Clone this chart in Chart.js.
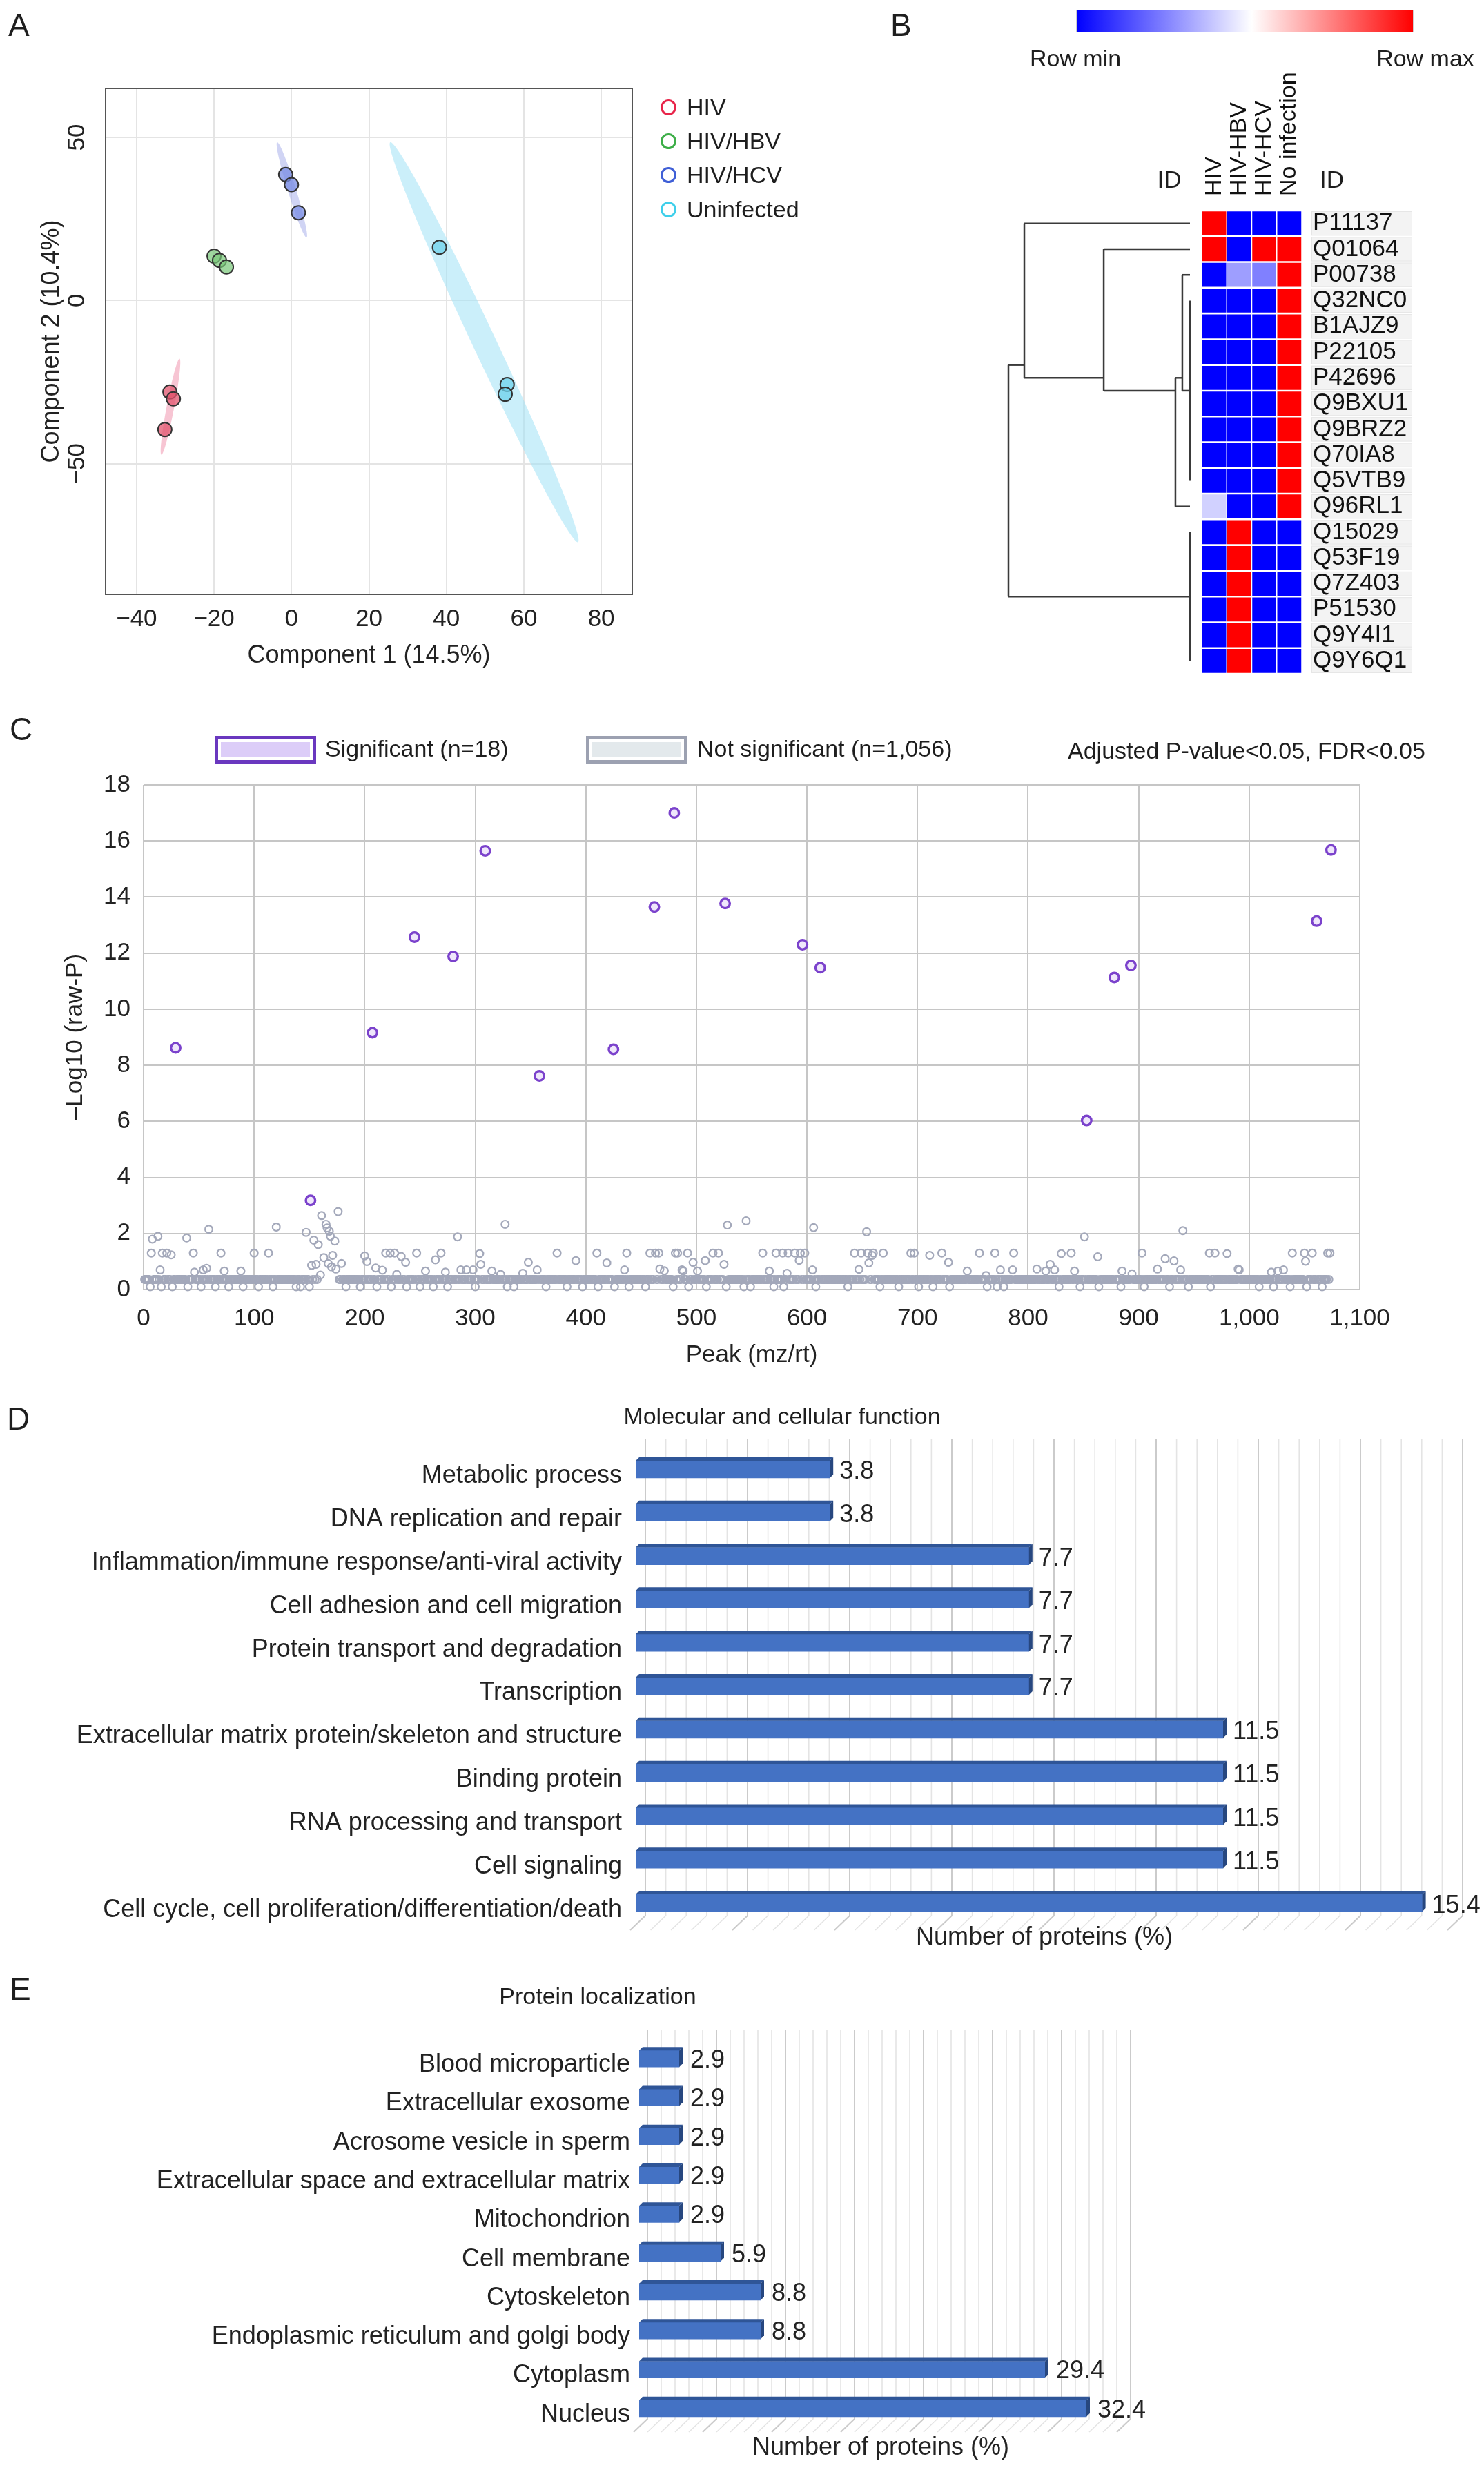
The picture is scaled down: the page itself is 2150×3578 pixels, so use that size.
<!DOCTYPE html>
<html>
<head>
<meta charset="utf-8">
<title>Proteomic analysis figure</title>
<script src="https://cdn.jsdelivr.net/npm/chart.js@4.4.1/dist/chart.umd.min.js"></script>
<style>
  html,body{margin:0;padding:0;background:#fff;}
  body{width:2150px;height:3578px;position:relative;overflow:hidden;font-family:"Liberation Sans",Arial,Helvetica,sans-serif;color:#1e1e1e;}
  canvas{position:absolute;display:block;}
  .t{position:absolute;white-space:nowrap;line-height:1;}
</style>
</head>
<body>
<canvas id="cA" width="1300" height="1000" style="left:0px;top:0px"></canvas>
<canvas id="cB" width="720" height="990" style="left:1430px;top:0px"></canvas>
<canvas id="cC" width="2150" height="980" style="left:0px;top:1020px"></canvas>
<canvas id="cD" width="2150" height="830" style="left:0px;top:2000px"></canvas>
<canvas id="cE" width="2150" height="738" style="left:0px;top:2840px"></canvas>
<script>
// ---------------- DATA ----------------
// Panel A : PCA scores (Component 1, Component 2)
const pcaGroups  = ['HIV', 'HIV/HBV', 'HIV/HCV', 'Uninfected'];
const pcaHIV     = [[-31.4, -28.0], [-30.5, -30.1], [-32.7, -39.5]];
const pcaHBV     = [[-20.0, 13.6], [-18.6, 12.3], [-16.8, 10.3]];
const pcaHCV     = [[-1.5, 38.6], [0.0, 35.5], [1.8, 26.9]];
const pcaUninf   = [[38.2, 16.3], [55.7, -25.7], [55.2, -28.7]];
// confidence ellipses: major-axis end points
const ellHIV     = [[-33.6, -47.2], [-28.9, -17.8]];
const ellHCV     = [[-3.7, 48.5], [3.9, 19.3]];
const ellUninf   = [[25.5, 48.5], [74.0, -74.0]];

// Panel B : heat map (row-scaled, 0 = row min, 1 = row max)
const hmConditions = ['HIV', 'HIV-HBV', 'HIV-HCV', 'No infection'];
const hmIds = ['P11137','Q01064','P00738','Q32NC0','B1AJZ9','P22105','P42696','Q9BXU1','Q9BRZ2',
               'Q70IA8','Q5VTB9','Q96RL1','Q15029','Q53F19','Q7Z403','P51530','Q9Y4I1','Q9Y6Q1'];
const hmValues = [
  [1,0,0,0],[1,0,1,1],[0,0.31,0.25,1],
  [0,0,0,1],[0,0,0,1],[0,0,0,1],[0,0,0,1],[0,0,0,1],[0,0,0,1],[0,0,0,1],[0,0,0,1],
  [0.41,0,0,1],
  [0,1,0,0],[0,1,0,0],[0,1,0,0],[0,1,0,0],[0,1,0,0],[0,1,0,0]
];
// dendrogram merges: [node, children (row index or node), height]
const dendroMerges = [
  ['E', [3,4,5,6,7,8,9,10], 0],
  ['D', [2,'E'], 0.042],
  ['C', ['D',11], 0.08],
  ['B', [1,'C'], 0.475],
  ['A', [0,'B'], 0.9125],
  ['F', [12,13,14,15,16,17], 0],
  ['root', ['A','F'], 1.0]
];

// Panel C : -log10(raw P) per peak
const sigPeaks = [29,151,207,245,280,309,358,425,462,480,526,596,612,853,878,893,1061,1074];
const sigLogP  = [8.62,3.18,9.16,12.57,11.88,15.65,7.62,8.57,13.65,17.0,13.77,12.3,11.48,6.03,11.13,11.56,13.14,15.68];
const nsPeaks = [7,8,13,15,17,21,25,39,45,46,54,57,59,70,73,88,100,113,120,147,152,154,156,158,160,161,163,165,166,167,168,169,170,171,173,174,176,179,
  200,202,210,216,219,223,227,229,233,237,247,255,264,269,273,284,287,292,298,304,305,315,323,327,343,348,356,374,391,410,419,435,437,458,463,466,467,471,
  481,483,487,488,492,497,501,508,515,520,525,528,545,560,566,572,578,582,583,589,593,594,598,605,606,643,647,649,654,655,656,659,660,669,694,697,711,722,
  728,745,756,762,770,775,786,787,808,816,820,824,830,839,842,851,863,885,894,903,917,924,932,938,940,964,969,980,990,991,1020,1026,1031,1039,1050,1051,1057,1071,1073];
const nsLogP = [1.3,1.8,1.9,0.7,1.3,1.3,1.24,1.84,1.3,0.62,0.7,0.76,2.15,1.3,0.66,0.66,1.3,1.3,2.23,2.04,0.86,1.76,0.9,1.6,0.52,2.64,1.14,2.33,2.2,0.93,2.08,1.9,0.81,1.22,1.73,0.73,2.78,0.93,
  1.2,1.0,0.77,0.69,1.3,1.3,1.3,0.54,1.18,0.97,1.3,0.66,1.06,1.3,0.62,1.88,0.7,0.7,0.7,1.28,0.9,0.66,0.54,2.33,0.58,0.97,0.7,1.3,1.03,1.3,0.95,0.7,1.3,1.3,1.3,1.3,0.73,0.67,
  1.3,1.3,0.7,0.66,1.3,0.97,0.66,1.03,1.3,1.3,0.9,2.3,2.45,1.3,0.66,1.3,1.3,0.58,1.3,1.3,1.04,1.3,1.3,0.7,2.21,1.3,0.72,1.3,2.06,1.3,0.95,1.22,1.3,1.3,1.3,1.3,1.22,1.3,
  0.97,0.66,1.3,0.5,1.3,0.7,0.7,1.3,0.73,0.66,0.9,0.7,1.28,1.3,0.66,1.88,1.17,0.66,0.56,1.3,0.73,1.1,1.02,0.7,2.1,1.3,1.3,1.28,0.73,0.7,0.62,0.66,0.7,1.3,1.3,1.01,1.3,1.3,1.3];
const nsLowPeaks = [6,16,26,40,52,65,77,90,104,117,138,142,150,183,196,211,224,238,250,262,275,300,329,335,364,383,397,411,426,439,454,479,493,509,527,543,
  549,570,579,608,637,666,683,701,714,729,763,772,778,828,847,864,884,905,928,945,965,1009,1022,1037,1052,1066];
const nsLowLogP = 0.1;
// dense band of overlapping non-significant peaks: [first peak, last peak, -log10 P]
const nsBandRuns = [[1,157,0.36],[177,1074,0.36]];

// Panel D : molecular and cellular function
const funcCategories = ['Metabolic process','DNA replication and repair','Inflammation/immune response/anti-viral activity',
  'Cell adhesion and cell migration','Protein transport and degradation','Transcription',
  'Extracellular matrix protein/skeleton and structure','Binding protein','RNA processing and transport',
  'Cell signaling','Cell cycle, cell proliferation/differentiation/death'];
const funcPercent = [3.8,3.8,7.7,7.7,7.7,7.7,11.5,11.5,11.5,11.5,15.4];

// Panel E : protein localization
const locCategories = ['Blood microparticle','Extracellular exosome','Acrosome vesicle in sperm',
  'Extracellular space and extracellular matrix','Mitochondrion','Cell membrane','Cytoskeleton',
  'Endoplasmic reticulum and golgi body','Cytoplasm','Nucleus'];
const locPercent = [2.9,2.9,2.9,2.9,2.9,5.9,8.8,8.8,29.4,32.4];

// ---------------- COMMON ----------------
Chart.defaults.font.family = '"Liberation Sans", Arial, Helvetica, sans-serif';
Chart.defaults.color = '#1e1e1e';
const common = {responsive:false, animation:false, devicePixelRatio:1, events:[]};
const noPlug = {legend:{display:false}, tooltip:{enabled:false}};
const minus = v => (v < 0 ? '\u2212' + Math.abs(v) : String(v));
const noPad = s => { s.paddingTop = 0; s.paddingBottom = 0; s.paddingLeft = 0; s.paddingRight = 0; };

function txt(s, x, y, size, align, color){
  const d = document.createElement('div');
  d.className = 't'; d.textContent = s;
  d.style.fontSize = size + 'px';
  d.style.top = (y - size/2) + 'px';
  if (color) d.style.color = color;
  if (align === 'c') { d.style.left = x + 'px'; d.style.transform = 'translateX(-50%)'; }
  else if (align === 'r') { d.style.right = (2150 - x) + 'px'; }
  else { d.style.left = x + 'px'; }
  document.body.appendChild(d);
  return d;
}
function box(x, y, w, h, css){
  const d = document.createElement('div');
  d.style.cssText = `position:absolute;left:${x}px;top:${y}px;width:${w}px;height:${h}px;box-sizing:border-box;` + css;
  document.body.appendChild(d);
  return d;
}

// panel letters
txt('A', 12, 36, 46); txt('B', 1290, 36, 46); txt('C', 14, 1056, 46); txt('D', 10, 2055, 46); txt('E', 14, 2881, 46);

// ---------------- PANEL A ----------------
const groupColors = ['#e8254a', '#3dae48', '#3f5fd6', '#3fcfea'];
const groupFills  = ['rgba(226,84,110,0.75)', 'rgba(120,200,120,0.7)', 'rgba(120,140,228,0.75)', 'rgba(110,210,235,0.75)'];
const pcaSets = [pcaHIV, pcaHBV, pcaHCV, pcaUninf];
const pcaEllipses = [
  {ends: ellHIV, half: 5.5, fill: 'rgba(240,150,175,0.55)'},
  {ends: ellHCV, half: 6, fill: 'rgba(150,160,230,0.45)'},
  {ends: ellUninf, half: 17, fill: 'rgba(160,225,245,0.55)'}
];
const ellipsePlugin = {
  id: 'pcaEllipses',
  beforeDatasetsDraw(chart){
    const {ctx, chartArea:a} = chart, xs = chart.scales.x, ys = chart.scales.y;
    ctx.save();
    ctx.beginPath(); ctx.rect(a.left, a.top, a.width, a.height); ctx.clip();
    pcaEllipses.forEach(e => {
      const x1 = xs.getPixelForValue(e.ends[0][0]), y1 = ys.getPixelForValue(e.ends[0][1]);
      const x2 = xs.getPixelForValue(e.ends[1][0]), y2 = ys.getPixelForValue(e.ends[1][1]);
      ctx.beginPath();
      ctx.ellipse((x1+x2)/2, (y1+y2)/2, Math.hypot(x2-x1, y2-y1)/2, e.half, Math.atan2(y2-y1, x2-x1), 0, Math.PI*2);
      ctx.fillStyle = e.fill; ctx.fill();
    });
    ctx.restore();
  }
};
const frameA = {
  id: 'frameA',
  afterDraw(chart){
    const {ctx, chartArea:a} = chart;
    ctx.save(); ctx.strokeStyle = '#555'; ctx.lineWidth = 2;
    ctx.strokeRect(a.left, a.top, a.width, a.height); ctx.restore();
  }
};
new Chart(document.getElementById('cA'), {
  type: 'scatter',
  data: {datasets: pcaSets.map((s, i) => ({
    label: pcaGroups[i],
    data: s.map(p => ({x: p[0], y: p[1]})),
    pointRadius: 10, pointBackgroundColor: groupFills[i], pointBorderColor: '#333', pointBorderWidth: 2
  }))},
  options: Object.assign({}, common, {
    layout: {padding: {top: 128, right: 384, left: 0, bottom: 0}},
    plugins: noPlug,
    scales: {
      x: {min: -48, max: 88,
          ticks: {stepSize: 20, includeBounds: false, font: {size: 35}, color: '#222', padding: 15, callback: minus},
          grid: {color: '#e4e4e4', lineWidth: 2, drawTicks: false}, border: {display: false},
          title: {display: true, text: 'Component 1 (14.5%)', font: {size: 36}, color: '#222', padding: {top: 0, bottom: 28}},
          afterFit: s => { s.height = 139; noPad(s); }},
      y: {min: -90, max: 65,
          ticks: {stepSize: 50, includeBounds: false, font: {size: 35}, color: '#222', padding: 11,
                  minRotation: 90, maxRotation: 90, crossAlign: 'center', callback: minus},
          grid: {color: '#e4e4e4', lineWidth: 2, drawTicks: false}, border: {display: false},
          title: {display: true, text: 'Component 2 (10.4%)', font: {size: 36}, color: '#222', padding: {top: 53, bottom: 0}},
          afterFit: s => { s.width = 153; noPad(s); }}
    }
  }),
  plugins: [ellipsePlugin, frameA]
});
// legend A
[155, 204, 253, 303].forEach((y, i) => {
  box(957, y - 11.5, 23, 23, `border:3px solid ${groupColors[i]};border-radius:50%;`);
  txt(pcaGroups[i], 995, y, 34);
});

// ---------------- PANEL B ----------------
box(1559, 14, 489, 33, 'background:linear-gradient(to right,#0000ff 0%,#ffffff 52%,#ff0000 100%);border:1px solid #cfcfcf;');
txt('Row min', 1558, 84, 34, 'c');
txt('Row max', 2065, 84, 34, 'c');
txt('ID', 1694, 259, 35, 'c');
txt('ID', 1912, 259, 35, 'l');

function hmColor(v){
  if (v <= 0.5) { const t = v / 0.5, c = Math.round(255 * t); return `rgb(${c},${c},255)`; }
  const t = (v - 0.5) / 0.5, c = Math.round(255 * (1 - t)); return `rgb(255,${c},${c})`;
}
const hmCells = [];
hmValues.forEach((row, r) => row.forEach((v, c) => hmCells.push({x: c, y: r, v})));

// dendrogram segments from merge table
const nodePos = {};
const dendroSegs = [];
dendroMerges.forEach(([name, kids, h]) => {
  const pts = kids.map(k => typeof k === 'number' ? {h: 0, y: k, leaves: [k]} : nodePos[k]);
  const leaves = pts.flatMap(p => p.leaves);
  const y = leaves.reduce((a, b) => a + b, 0) / leaves.length;
  nodePos[name] = {h, y, leaves};
  const ys = pts.map(p => p.y);
  dendroSegs.push([{x: h, y: Math.min(...ys)}, {x: h, y: Math.max(...ys)}]);
  pts.forEach(p => { if (p.h !== h) dendroSegs.push([{x: p.h, y: p.y}, {x: h, y: p.y}]); });
});

// geometry of panel B (pixels, canvas-relative)
const bArea = {left: 25, right: 456};
const bW = bArea.right - bArea.left;
const colW = (1886 - 1741) / 4;
const leafFromRight = 1886 - 1724, rootFromRight = 1886 - 1461;
const dUnit = (rootFromRight - leafFromRight) / 1.0;
const xdMin = -leafFromRight / dUnit, xdMax = xdMin + bW / dUnit;

const idBoxes = {
  id: 'idBoxes',
  beforeDraw(chart){
    const {ctx, chartArea:a} = chart, ys = chart.scales.y;
    ctx.save();
    hmIds.forEach((id, i) => {
      const t = ys.getPixelForValue(i - 0.5), b = ys.getPixelForValue(i + 0.5);
      ctx.fillStyle = '#f3f3f3'; ctx.fillRect(a.right + 14, t + 1, 146, b - t - 2);
      ctx.strokeStyle = '#e6e6e6'; ctx.lineWidth = 1; ctx.strokeRect(a.right + 14.5, t + 1.5, 145, b - t - 3);
    });
    ctx.restore();
  }
};

new Chart(document.getElementById('cB'), {
  type: 'scatter',
  data: {datasets: [
    {label: 'heatmap', data: hmCells, xAxisID: 'xh', yAxisID: 'y', pointStyle: 'rect',
     pointRadius: ctx => { const s = ctx.chart.scales.xh; return (s.getPixelForValue(1) - s.getPixelForValue(0) - 1.5) / Math.SQRT2; },
     pointBackgroundColor: ctx => hmColor(ctx.raw.v), pointBorderWidth: 0, clip: false}
  ].concat(dendroSegs.map(seg => ({
     label: 'dendrogram', data: seg, xAxisID: 'xd', yAxisID: 'y', showLine: true, pointRadius: 0,
     borderColor: '#3a3a3a', borderWidth: 2.5, clip: false})))},
  options: Object.assign({}, common, {
    layout: {padding: {left: 25, top: 0, right: 0, bottom: 14}},
    plugins: noPlug,
    scales: {
      xh: {type: 'linear', position: 'top', min: 3.5 - bW / colW, max: 3.5,
           afterBuildTicks: s => { s.ticks = hmConditions.map((c, i) => ({value: i})); },
           ticks: {callback: v => hmConditions[v], minRotation: 90, maxRotation: 90, font: {size: 34}, color: '#111', padding: 21, labelOffset: 40.8, autoSkip: false},
           grid: {display: false, drawTicks: false}, border: {display: false},
           afterFit: s => { s.height = 305; noPad(s); }},
      xd: {type: 'linear', display: false, reverse: true, min: xdMin, max: xdMax},
      y: {type: 'linear', position: 'right', reverse: true, min: -0.5, max: 17.5,
          afterBuildTicks: s => { s.ticks = hmIds.map((id, i) => ({value: i})); },
          ticks: {callback: v => hmIds[v], font: {size: 35}, color: '#111', padding: 16, autoSkip: false},
          grid: {display: false, drawTicks: false}, border: {display: false},
          afterFit: s => { s.width = 264; noPad(s); }}
    }
  }),
  plugins: [idBoxes]
});

// ---------------- PANEL C ----------------
box(311, 1066, 147, 40, 'border:5px solid #6a38bf;background:#fff;padding:4px;');
box(320, 1075, 129, 22, 'background:#dccdf8;');
txt('Significant (n=18)', 471, 1084, 34, 'l');
box(849, 1066, 147, 40, 'border:5px solid #9ca1b1;background:#fff;padding:4px;');
box(858, 1075, 129, 22, 'background:#e3e9ec;');
txt('Not significant (n=1,056)', 1010, 1084, 34, 'l');
txt('Adjusted P-value<0.05, FDR<0.05', 1547, 1087, 34, 'l');

const usedPeaks = new Set([...sigPeaks, ...nsPeaks, ...nsLowPeaks]);
const nsData = nsPeaks.map((p, i) => ({x: p, y: nsLogP[i]}))
  .concat(nsLowPeaks.map(p => ({x: p, y: nsLowLogP})));
nsBandRuns.forEach(([a, b, v]) => { for (let p = a; p <= b; p++) if (!usedPeaks.has(p)) nsData.push({x: p, y: v}); });

new Chart(document.getElementById('cC'), {
  type: 'scatter',
  data: {datasets: [
    {label: 'Significant (n=18)', data: sigPeaks.map((p, i) => ({x: p, y: sigLogP[i]})),
     pointRadius: 6.8, pointBorderWidth: 3.4, pointBorderColor: '#7b42cc', pointBackgroundColor: '#efe7fb', clip: false},
    {label: 'Not significant (n=1,056)', data: nsData,
     pointRadius: 5.4, pointBorderWidth: 2.2, pointBorderColor: '#a3a8ba', pointBackgroundColor: 'rgba(255,255,255,0)', clip: false}
  ]},
  options: Object.assign({}, common, {
    layout: {padding: {top: 117, right: 180, left: 0, bottom: 0}},
    plugins: noPlug,
    scales: {
      x: {min: 0, max: 1100,
          ticks: {stepSize: 100, font: {size: 35}, color: '#222', padding: 21},
          grid: {color: '#c6c6c6', lineWidth: 2, drawTicks: false}, border: {display: false},
          title: {display: true, text: 'Peak (mz/rt)', font: {size: 35}, color: '#222', padding: {top: 0, bottom: 16}},
          afterFit: s => { s.height = 132; noPad(s); }},
      y: {min: 0, max: 18,
          ticks: {stepSize: 2, font: {size: 35}, color: '#222', padding: 19},
          grid: {color: '#c6c6c6', lineWidth: 2, drawTicks: false}, border: {display: false},
          title: {display: true, text: '\u2013Log10 (raw-P)', font: {size: 35}, color: '#222', padding: {top: 88, bottom: 0}},
          afterFit: s => { s.width = 208; noPad(s); }}
    }
  })
});

// ---------------- PANELS D & E (3-D style bars) ----------------
function wallPlugin(minor, major, dx, dy, fdx, fdy){
  return {
    id: 'wall',
    beforeDatasetsDraw(chart){
      const {ctx, chartArea:a} = chart, xs = chart.scales.x;
      ctx.save();
      const n = Math.round((xs.max - xs.min) / minor);
      for (let k = 0; k <= n; k++) {
        const v = xs.min + k * minor;
        const isMajor = Math.abs(v / major - Math.round(v / major)) < 1e-6;
        const xb = xs.getPixelForValue(v) + dx;
        ctx.strokeStyle = isMajor ? '#cbcbcb' : '#e4e4e4';
        ctx.lineWidth = isMajor ? 2 : 1.6;
        ctx.beginPath();
        ctx.moveTo(xb, a.top - dy); ctx.lineTo(xb, a.bottom - dy);
        ctx.lineTo(xb - fdx, a.bottom - dy + fdy);
        ctx.stroke();
      }
      ctx.restore();
    }
  };
}
function bar3dPlugin(depth, labelGap, labelDy){
  return {
    id: 'bar3d',
    afterDatasetsDraw(chart){
      const {ctx} = chart;
      const meta = chart.getDatasetMeta(0);
      const vals = chart.data.datasets[0].data;
      ctx.save();
      meta.data.forEach((bar, i) => {
        const {x, y, base, height} = bar.getProps(['x', 'y', 'base', 'height'], true);
        const top = y - height / 2, bot = y + height / 2;
        ctx.fillStyle = '#2f5597';
        ctx.beginPath();
        ctx.moveTo(base, top); ctx.lineTo(x, top); ctx.lineTo(x + depth, top - depth); ctx.lineTo(base + depth, top - depth);
        ctx.closePath(); ctx.fill();
        ctx.fillStyle = '#27477f';
        ctx.beginPath();
        ctx.moveTo(x, top); ctx.lineTo(x + depth, top - depth); ctx.lineTo(x + depth, bot - depth); ctx.lineTo(x, bot);
        ctx.closePath(); ctx.fill();
        ctx.fillStyle = '#222';
        ctx.font = '36px "Liberation Sans", Arial, sans-serif';
        ctx.textAlign = 'left'; ctx.textBaseline = 'middle';
        ctx.fillText(String(vals[i]), x + labelGap, y + labelDy);
      });
      ctx.restore();
    }
  };
}

txt('Molecular and cellular function', 1133, 2051, 34, 'c');
new Chart(document.getElementById('cD'), {
  type: 'bar',
  data: {labels: funcCategories, datasets: [{label: 'Number of proteins (%)', data: funcPercent,
         backgroundColor: '#4472c4', barThickness: 25, borderWidth: 0}]},
  options: Object.assign({}, common, {
    indexAxis: 'y',
    layout: {padding: {top: 97, right: 45, left: 0, bottom: 0}},
    plugins: noPlug,
    scales: {
      x: {min: 0, max: 16, ticks: {display: false}, grid: {display: false, drawTicks: false}, border: {display: false},
          title: {display: true, text: 'Number of proteins (%)', font: {size: 36}, color: '#222', padding: {top: 0, bottom: 1}},
          afterFit: s => { s.height = 42; noPad(s); }},
      y: {ticks: {font: {size: 36}, color: '#222', padding: 20, autoSkip: false, labelOffset: 10},
          grid: {display: false, drawTicks: false}, border: {display: false},
          afterFit: s => { s.width = 921; noPad(s); }}
    }
  }),
  plugins: [wallPlugin(0.4, 2, 14, 13, 22, 21), bar3dPlugin(5, 14, 4)]
});

txt('Protein localization', 866, 2891, 34, 'c');
new Chart(document.getElementById('cE'), {
  type: 'bar',
  data: {labels: locCategories, datasets: [{label: 'Number of proteins (%)', data: locPercent,
         backgroundColor: '#4472c4', barThickness: 24, borderWidth: 0}]},
  options: Object.assign({}, common, {
    indexAxis: 'y',
    layout: {padding: {top: 114, right: 524, left: 0, bottom: 0}},
    plugins: noPlug,
    scales: {
      x: {min: 0, max: 35, ticks: {display: false}, grid: {display: false, drawTicks: false}, border: {display: false},
          title: {display: true, text: 'Number of proteins (%)', font: {size: 36}, color: '#222', padding: {top: 0, bottom: 10}},
          afterFit: s => { s.height = 61; noPad(s); }},
      y: {ticks: {font: {size: 36}, color: '#222', padding: 13, autoSkip: false, labelOffset: 9},
          grid: {display: false, drawTicks: false}, border: {display: false},
          afterFit: s => { s.width = 926; noPad(s); }}
    }
  }),
  plugins: [wallPlugin(1, 5, 12, 13, 20, 19), bar3dPlugin(5, 16, 3)]
});
</script>
</body>
</html>
